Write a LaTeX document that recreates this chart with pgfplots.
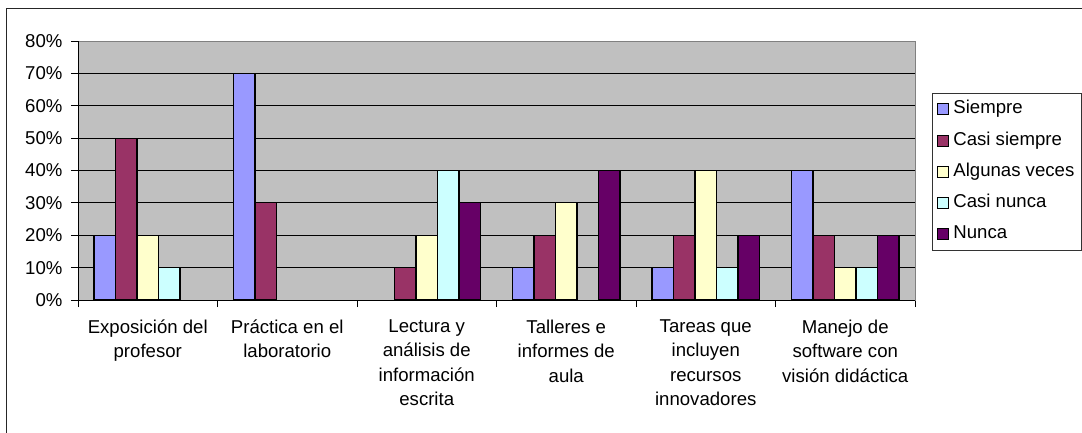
\documentclass[border=0pt]{standalone}
\usepackage{pgfplots}
\pgfplotsset{compat=1.18}
\usepackage{fontspec}
\setmainfont{Liberation Sans}
\definecolor{cS}{HTML}{9999FF}
\definecolor{cCS}{HTML}{993366}
\definecolor{cAV}{HTML}{FFFFCC}
\definecolor{cCN}{HTML}{CCFFFF}
\definecolor{cN}{HTML}{660066}
\definecolor{plotbg}{HTML}{C0C0C0}
\begin{document}
\begin{tikzpicture}[x=1pt,y=1pt]
\useasboundingbox (0,0) rectangle (1082,432);
\clip (0,0) rectangle (1082,432);
\fill[white] (0,0) rectangle (1082,432);
\draw[line width=1pt, black!85] (6,-20) -- (6,423) -- (1100,423);
\begin{axis}[
  at={(78pt,132pt)}, anchor=south west,
  scale only axis, width=837pt, height=259pt,
  ymin=0, ymax=80, xmin=-0.5, xmax=5.5,
  ybar=0pt, bar width=21.5pt,
  axis background/.style={fill=plotbg},
  axis line style={draw=black!50, line width=0.8pt},
  ymajorgrids, major grid style={black, line width=0.8pt},
  ytick={0,10,...,80},
  yticklabels={0\%,10\%,20\%,30\%,40\%,50\%,60\%,70\%,80\%},
  xtick={-0.5,0.5,...,5.5},
  xticklabels={},
  extra x ticks={0,1,2,3,4,5},
  extra x tick labels={{Exposición del\\profesor},{Práctica en el\\laboratorio},{Lectura y\\análisis de\\información\\escrita},{Talleres e\\informes de\\aula},{Tareas que\\incluyen\\recursos\\innovadores},{Manejo de\\software con\\visión didáctica}},
  extra x tick style={major tick length=0pt, xticklabel style={align=center, font=\fontsize{18.6}{24.5}\selectfont, yshift=-16pt}},
  xtick pos=bottom, ytick pos=left,
  tick align=outside,
  major tick length=7pt,
  tick style={black, line width=0.8pt},
  yticklabel style={font=\fontsize{18.6}{22}\selectfont, xshift=-5pt},
  legend style={at={(1.0203,0.8)}, anchor=north west, draw=black!80, line width=0.8pt,
    font=\fontsize{18.6}{22}\selectfont, inner xsep=4.5pt, inner ysep=0.5pt,
    row sep=0pt, column sep=2pt,
    nodes={inner xsep=2.5pt, inner ysep=7pt, text height=13.2pt, text depth=4pt}},
  legend cell align=left,
  legend image code/.code={\draw[#1, draw=black, line width=1pt] (0pt,-5.5pt) rectangle (11pt,5.5pt);},
  after end axis/.code={
    \draw[black, line width=0.8pt] (rel axis cs:0,0) -- (rel axis cs:0,1);
    \draw[black, line width=0.8pt] (rel axis cs:0,0) -- (rel axis cs:1,0);
  },
]
\addplot[fill=cS, draw=black, line width=1.1pt] coordinates {(0,20) (1,70) (3,10) (4,10) (5,40)};
\addlegendentry{Siempre}
\addplot[fill=cCS, draw=black, line width=1.1pt] coordinates {(0,50) (1,30) (2,10) (3,20) (4,20) (5,20)};
\addlegendentry{Casi siempre}
\addplot[fill=cAV, draw=black, line width=1.1pt] coordinates {(0,20) (2,20) (3,30) (4,40) (5,10)};
\addlegendentry{Algunas veces}
\addplot[fill=cCN, draw=black, line width=1.1pt] coordinates {(0,10) (2,40) (4,10) (5,10)};
\addlegendentry{Casi nunca}
\addplot[fill=cN, draw=black, line width=1.1pt] coordinates {(2,30) (3,40) (4,20) (5,20)};
\addlegendentry{Nunca}
\end{axis}
\end{tikzpicture}
\end{document}
